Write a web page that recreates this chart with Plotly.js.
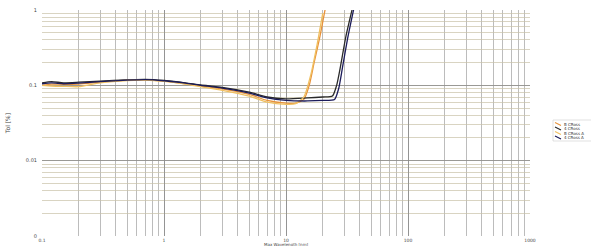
<!DOCTYPE html>
<html><head><meta charset="utf-8">
<script src="https://cdn.plot.ly/plotly-3.0.1.min.js"></script>
<style>html,body{margin:0;padding:0;background:#fff}#c{width:591px;height:246px}</style>
</head><body><div id="c"></div>
<script>
const seriesNames = ["B CRoss", "4 CRoss", "B CRoss A", "4 CRoss A"];
const seriesColors = ["#e8923a", "#2a2a2a", "#f0c060", "#1c1c5a"];
const xOrange = [0.1, 0.12, 0.15, 0.2, 0.3, 0.5, 0.7, 1, 1.5, 2, 3, 5, 7, 10, 12, 14, 15.5, 17, 19, 21];
const yOrange = [0.1, 0.104, 0.103, 0.104, 0.11, 0.117, 0.118, 0.114, 0.105, 0.098, 0.09, 0.076, 0.063, 0.058, 0.058, 0.065, 0.1, 0.2, 0.45, 1.05];
const xBlack = [0.1, 0.12, 0.15, 0.2, 0.3, 0.5, 0.7, 1, 1.5, 2, 3, 5, 7, 10, 15, 20, 24, 26, 28, 31, 35];
const yBlack = [0.108, 0.112, 0.108, 0.11, 0.114, 0.118, 0.12, 0.116, 0.108, 0.101, 0.094, 0.081, 0.07, 0.066, 0.068, 0.07, 0.072, 0.1, 0.18, 0.45, 1.05];
const xYellow = [0.1, 0.12, 0.15, 0.2, 0.3, 0.5, 0.7, 1, 1.5, 2, 3, 5, 7, 10, 12, 14, 16, 18, 20];
const yYellow = [0.1, 0.098, 0.097, 0.096, 0.108, 0.116, 0.117, 0.113, 0.104, 0.096, 0.086, 0.072, 0.06, 0.056, 0.057, 0.07, 0.14, 0.35, 0.9];
const xNavy = [0.1, 0.12, 0.15, 0.2, 0.3, 0.5, 0.7, 1, 1.5, 2, 3, 5, 7, 10, 15, 20, 25, 27, 29, 32, 36];
const yNavy = [0.105, 0.108, 0.105, 0.107, 0.112, 0.117, 0.119, 0.115, 0.107, 0.1, 0.092, 0.079, 0.068, 0.063, 0.062, 0.063, 0.065, 0.09, 0.17, 0.42, 1.05];
const xTickVals = [0.1, 1, 10, 100, 1000];
const xTickText = ["0.1", "1", "10", "100", "1000"];
const yTickVals = [0.001, 0.01, 0.1, 1];
const yTickText = ["0", "0.01", "0.1", "1"];

const xs = [xOrange, xBlack, xYellow, xNavy];
const ys = [yOrange, yBlack, yYellow, yNavy];
const traces = xs.map((x, i) => ({
  x: x, y: ys[i], type: 'scatter', mode: 'lines', name: seriesNames[i],
  line: {color: seriesColors[i], width: 1.3, shape: 'spline', smoothing: 0.6}
}));

// Compact custom legend (paper coordinates, outside the plot area)
const W = 591, H = 246, ML = 42, MR = 61, MT = 10, MB = 10;
const pw = W - ML - MR, ph = H - MT - MB;
const px = v => (v - ML) / pw;           // pixel x -> paper x
const py = v => (H - MB - v) / ph;       // pixel y -> paper y
const shapes = [{type: 'rect', xref: 'paper', yref: 'paper',
  x0: px(553), x1: px(592), y0: py(141), y1: py(120),
  line: {color: '#cfcfcf', width: 0.6}, fillcolor: 'rgba(0,0,0,0)'}];
const annotations = [];
seriesNames.forEach((n, i) => {
  const yc = 124 + i * 4.5;
  shapes.push({type: 'line', xref: 'paper', yref: 'paper',
    x0: px(555), x1: px(561), y0: py(yc - 1.5), y1: py(yc + 1.5),
    line: {color: seriesColors[i], width: 1.2}});
  annotations.push({xref: 'paper', yref: 'paper', x: px(562), y: py(yc),
    xanchor: 'left', yanchor: 'middle', showarrow: false, text: n,
    font: {family: 'DejaVu Sans', size: 4, color: '#333'}});
});
// x-axis title placed just under the tick labels
annotations.push({xref: 'paper', yref: 'paper', x: px(286), y: py(241.2),
  xanchor: 'center', yanchor: 'top', showarrow: false, borderpad: 0,
  text: 'Max Wavelength [nm]', font: {family: 'DejaVu Sans', size: 4, color: '#444'}});

const axisCommon = {
  type: 'log', showline: false, zeroline: false,
  gridcolor: '#8a8a8a', gridwidth: 0.8,
  ticks: '', automargin: false
};
const layout = {
  width: W, height: H,
  margin: {l: ML, r: MR, t: MT, b: MB, autoexpand: false},
  paper_bgcolor: '#fff', plot_bgcolor: '#fff',
  showlegend: false,
  shapes: shapes, annotations: annotations,
  xaxis: Object.assign({}, axisCommon, {
    range: [-1, 3], tickvals: xTickVals, ticktext: xTickText, ticklabelstandoff: 0,
    tickfont: {family: 'DejaVu Sans', size: 4.5, color: '#444'},
    minor: {dtick: 'D1', showgrid: true, gridcolor: '#a0a0a0', gridwidth: 0.7}
  }),
  yaxis: Object.assign({}, axisCommon, {
    range: [-3, 0], tickvals: yTickVals, ticktext: yTickText, ticklabelstandoff: 4,
    tickfont: {family: 'DejaVu Sans', size: 5, color: '#444'},
    minor: {dtick: 'D1', showgrid: true, gridcolor: '#c9c2a8', gridwidth: 0.7},
    title: {text: 'Tol [%]', font: {family: 'DejaVu Sans', size: 6, color: '#444'}, standoff: 14}
  })
};
Plotly.newPlot('c', traces, layout, {staticPlot: true, displayModeBar: false});
</script></body></html>
